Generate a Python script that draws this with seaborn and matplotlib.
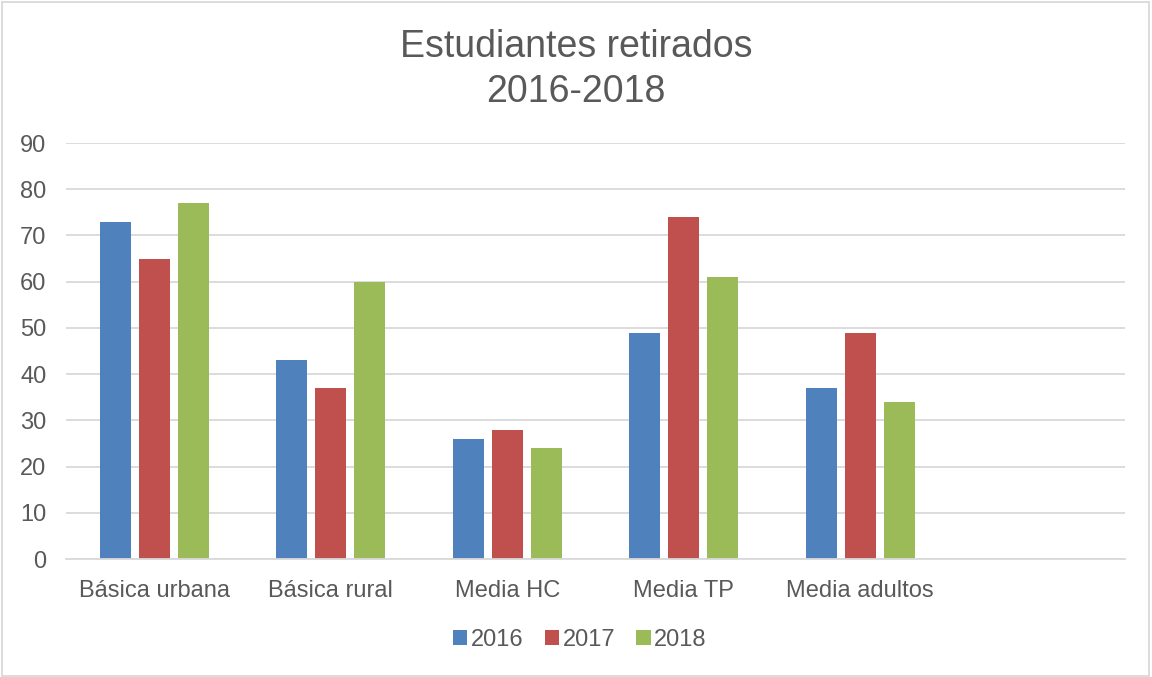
import pandas as pd
import matplotlib.pyplot as plt
import seaborn as sns
from matplotlib.patches import Rectangle

# Chart data
categories = ['Básica urbana', 'Básica rural', 'Media HC', 'Media TP', 'Media adultos']
years = ['2016', '2017', '2018']
values_2016 = [73, 43, 26, 49, 37]
values_2017 = [65, 37, 28, 74, 49]
values_2018 = [77, 60, 24, 61, 34]
colors = ['#4f81bd', '#c0504d', '#9bbb59']

rows = []
for year, vals in zip(years, [values_2016, values_2017, values_2018]):
    for cat, v in zip(categories, vals):
        rows.append({'categoria': cat, 'anio': year, 'valor': v})
df = pd.DataFrame(rows)

sns.set_style('white')
plt.rcParams['font.family'] = ['Liberation Sans', 'DejaVu Sans']
text_color = '#595959'
grid_color = '#d9d9d9'

fig = plt.figure(figsize=(11.52, 6.77), dpi=100)
ax = fig.add_axes([66 / 1152, 1 - 559 / 677, (1125 - 66) / 1152, (559 - 143) / 677])

# an empty 6th slot, as in the original chart
order = categories + [' ']
sns.barplot(data=df, x='categoria', y='valor', hue='anio', order=order,
            hue_order=years, palette=colors, width=0.663, gap=0.2,
            saturation=1, linewidth=0, ax=ax, legend=True)

ax.set_ylim(0, 90)
ax.set_xlim(-0.5, len(order) - 0.5)
ax.set_yticks(range(0, 91, 10))
ax.yaxis.grid(True, color=grid_color, linewidth=1.3)
ax.set_axisbelow(True)
for s in ['top', 'right', 'left']:
    ax.spines[s].set_visible(False)
ax.spines['bottom'].set_color(grid_color)
ax.spines['bottom'].set_linewidth(1.3)
ax.tick_params(axis='both', length=0, labelsize=17, colors=text_color)
ax.tick_params(axis='y', pad=14)
ax.tick_params(axis='x', pad=15)
ax.set_xlabel('')
ax.set_ylabel('')

fig.text(0.5, 1 - 47 / 677, 'Estudiantes retirados', ha='center', va='center',
         fontsize=27, color=text_color)
fig.text(0.5, 1 - 92 / 677, '2016-2018', ha='center', va='center',
         fontsize=27, color=text_color)

leg = ax.legend(loc='center', bbox_to_anchor=(580 / 1152, 1 - 640 / 677),
                bbox_transform=fig.transFigure, ncol=3, frameon=False,
                fontsize=17, handlelength=0.6, handleheight=0.6,
                handletextpad=0.15, columnspacing=0.9)
for t in leg.get_texts():
    t.set_color(text_color)

# light border around the chart area
fig.patches.append(Rectangle((0.002, 0.002), 0.995, 0.995, transform=fig.transFigure,
                             fill=False, edgecolor='#d9d9d9', linewidth=1.3))

fig.savefig('out.png', dpi=100)
